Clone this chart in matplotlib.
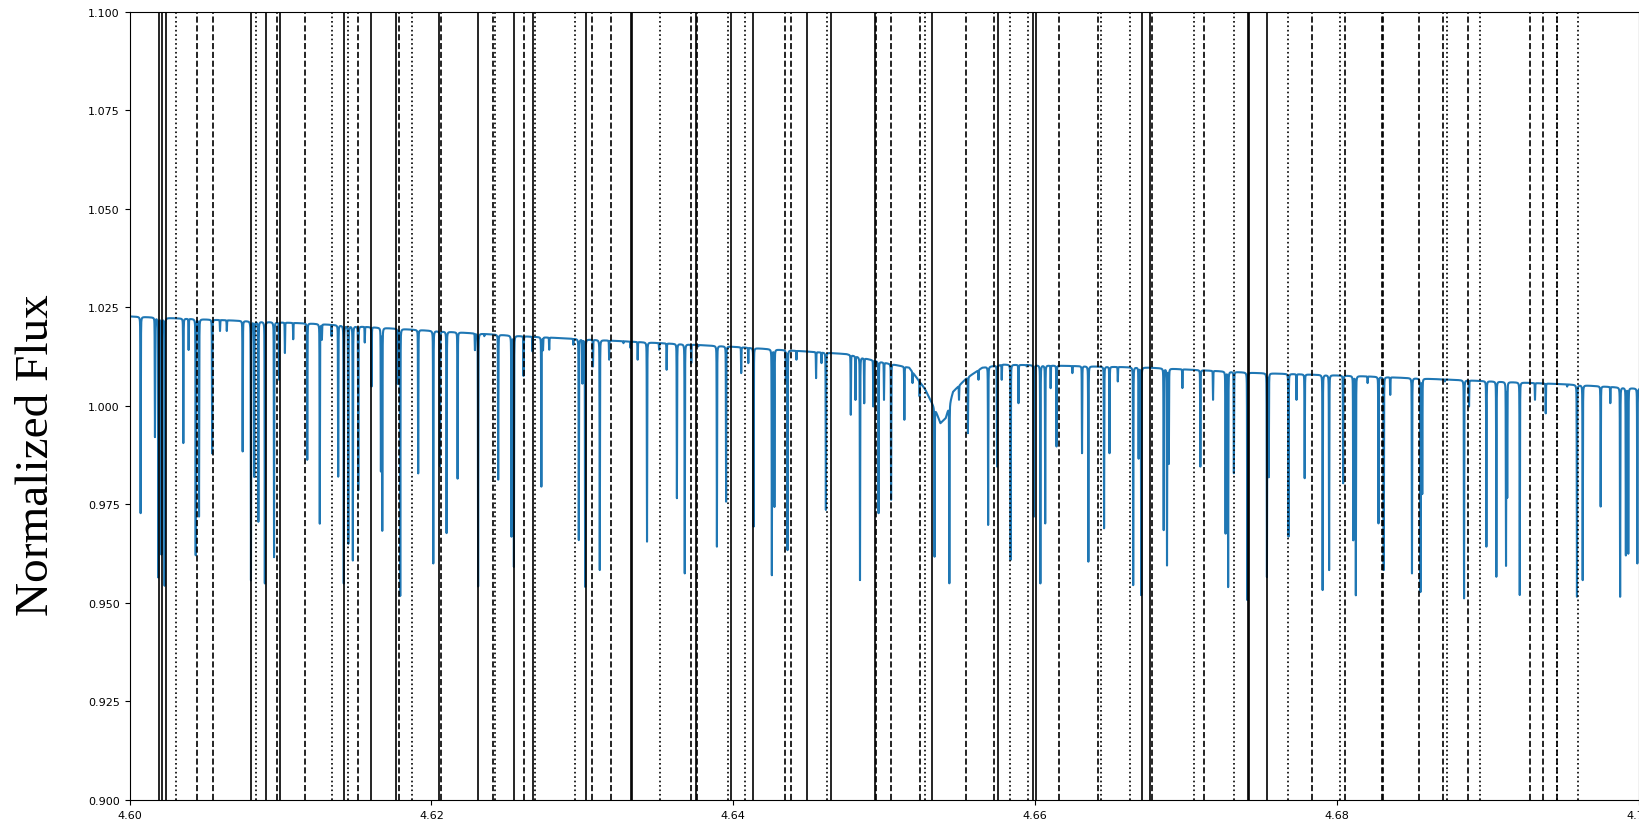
import numpy as np
import matplotlib
matplotlib.use("Agg")
import matplotlib.pyplot as plt

# ---------------- data ----------------
# continuum anchor points (wavelength, flux)
cont_wave = [4.6000, 4.61218, 4.62603, 4.63988, 4.64749, 4.64957, 4.65165, 4.65268,
             4.65338, 4.65372, 4.65407, 4.65455, 4.65545, 4.65649, 4.65788, 4.66757,
             4.67449, 4.68141, 4.68834, 4.69526, 4.70000]
cont_flux = [1.0227, 1.02085, 1.01767, 1.01502, 1.01315, 1.01129, 1.00970, 1.00438,
             0.99907, 0.99562, 0.99695, 1.00359, 1.00704, 1.00970, 1.01049, 1.00970,
             1.00837, 1.00757, 1.00651, 1.00545, 1.00438]

# absorption lines: centre wavelength and minimum flux
line_wave = [4.60073, 4.60168, 4.60190, 4.60211, 4.60232, 4.60356, 4.60391, 4.60438,
             4.60460, 4.60547, 4.60599, 4.60644, 4.60749, 4.60804, 4.60826, 4.60853,
             4.60896, 4.60957, 4.60990, 4.61029, 4.61084, 4.61177, 4.61260, 4.61274,
             4.61338, 4.61382, 4.61419, 4.61449, 4.61479, 4.61515, 4.61558, 4.61603,
             4.61665, 4.61674, 4.61776, 4.61793, 4.61912, 4.62012, 4.62056, 4.62100,
             4.62173, 4.62288, 4.62309, 4.62350, 4.62442, 4.62530, 4.62546, 4.62610,
             4.62669, 4.62728, 4.62739, 4.62780, 4.62940, 4.62976, 4.63000, 4.63018,
             4.63070, 4.63115, 4.63177, 4.63272, 4.63319, 4.63366, 4.63428, 4.63508,
             4.63558, 4.63626, 4.63678, 4.63721, 4.63768, 4.63891, 4.63952, 4.64052,
             4.64099, 4.64134, 4.64255, 4.64272, 4.64348, 4.64359, 4.64418, 4.64548,
             4.64584, 4.64613, 4.64655, 4.64778, 4.64809, 4.64839, 4.64867, 4.64927,
             4.64962, 4.64998, 4.65045, 4.65133, 4.65187, 4.65234, 4.65333, 4.65431,
             4.65495, 4.65554, 4.65624, 4.65688, 4.65747, 4.65778, 4.65837, 4.65889,
             4.65944, 4.65991, 4.66034, 4.66066, 4.66102, 4.66141, 4.66246, 4.66310,
             4.66352, 4.66456, 4.66492, 4.66547, 4.66649, 4.66685, 4.66702, 4.66851,
             4.66873, 4.66885, 4.66975, 4.67094, 4.67178, 4.67261, 4.67278, 4.67316,
             4.67405, 4.67535, 4.67547, 4.67678, 4.67731, 4.67785, 4.67904, 4.67947,
             4.68040, 4.68107, 4.68124, 4.68202, 4.68274, 4.68309, 4.68352, 4.68496,
             4.68552, 4.68564, 4.68714, 4.68841, 4.68874, 4.68989, 4.69055, 4.69119,
             4.69127, 4.69210, 4.69311, 4.69382, 4.69524, 4.69589, 4.69627, 4.69746,
             4.69810, 4.69875, 4.69913, 4.69929, 4.69989]
line_min = [0.97278, 0.99217, 0.95657, 0.96242, 0.95445, 0.99057, 1.01421, 0.96215,
            0.97198, 0.98792, 1.0190, 1.0190, 0.98845, 0.95578, 0.98207, 0.97065,
            0.95498, 0.96162, 1.00664, 1.01342, 1.0169, 0.98632, 0.97012, 1.0169,
            1.0177, 0.98207, 0.95498, 0.96507, 0.96082, 0.97862, 1.0161, 1.00492,
            0.98367, 0.96853, 1.0057, 0.95180, 0.98287, 0.96003, 0.98473, 0.96773,
            0.98154, 1.01421, 0.95418, 1.0177, 0.98128, 0.96693, 0.95923, 1.0076,
            1.01384, 0.97952, 1.01426, 1.01426, 1.01554, 0.96598, 1.00579, 0.95410,
            1.01002, 0.95835, 1.01172, 1.0159, 1.0147, 1.01172, 0.96555, 1.01426,
            1.00916, 0.97658, 0.95750, 1.01087, 1.0151, 0.96428, 0.97570, 1.00831,
            1.01087, 0.96935, 0.95710, 0.97445, 1.00664, 0.96343, 1.01172, 1.00704,
            1.01087, 0.97360, 1.01384, 0.99775, 1.00154, 0.95580, 1.00069, 0.99987,
            0.97278, 1.00154, 0.97615, 0.99647, 1.00579, 1.00239, 0.96173, 0.95498,
            1.00154, 0.99307, 1.00664, 0.96978, 0.98460, 1.00664, 0.96090, 1.00069,
            1.01002, 0.97190, 0.95498, 0.97020, 1.00452, 0.98970, 1.00831, 0.98800,
            0.96048, 0.96895, 0.98800, 1.0062, 0.95453, 0.98672, 0.95201, 0.96853,
            0.95963, 0.98545, 1.00452, 0.98460, 1.00154, 0.96768, 0.95410, 0.98293,
            0.95073, 0.95665, 0.98207, 0.96683, 1.00154, 0.98165, 0.95328, 0.95835,
            0.98037, 0.96598, 0.95201, 1.00579, 0.97020, 0.95835, 1.0028, 0.95750,
            0.95286, 0.97782, 1.0062, 0.95116, 0.99987, 0.96428, 0.95665, 0.95963,
            0.97703, 0.95201, 1.00154, 0.9981, 1.0049, 0.95158, 0.95580, 0.97445,
            1.00069, 0.95158, 0.96215, 0.96258, 0.96003]

# marker lines
solid_lines = [4.60197, 4.60213, 4.60241, 4.60804, 4.60904, 4.60996, 4.61420, 4.61599,
               4.61767, 4.62048, 4.62306, 4.62547, 4.62675, 4.63022, 4.63323, 4.63329,
               4.63750, 4.63982, 4.64128, 4.64486, 4.64649, 4.64936, 4.65318, 4.65755,
               4.65987, 4.66005, 4.66707, 4.66760, 4.67408, 4.67414, 4.67533]
dashed_lines = [4.60445, 4.60551, 4.60975, 4.61164, 4.61511, 4.61787, 4.62060, 4.62410,
                4.62615, 4.63065, 4.63187, 4.63719, 4.63759, 4.64344, 4.64380, 4.64942,
                4.65046, 4.65236, 4.65541, 4.65727, 4.66157, 4.66418, 4.66775, 4.67118,
                4.67831, 4.68052, 4.68299, 4.68305, 4.68544, 4.68701, 4.68869, 4.69278,
                4.69362, 4.69455]
dotted_lines = [4.60305, 4.60837, 4.61339, 4.61445, 4.61869, 4.62421, 4.62686, 4.62953,
                4.63512, 4.63966, 4.64077, 4.64618, 4.65270, 4.65835, 4.65954, 4.66436,
                4.66628, 4.67052, 4.67319, 4.67676, 4.68019, 4.68726, 4.68948, 4.69460,
                4.69598]

x_ticks = [4.60, 4.62, 4.64, 4.66, 4.68, 4.70]
x_ticklabels = ["4.60", "4.62", "4.64", "4.66", "4.68", "4.70"]
y_ticks = [0.900, 0.925, 0.950, 0.975, 1.000, 1.025, 1.050, 1.075, 1.100]
y_ticklabels = ["0.900", "0.925", "0.950", "0.975", "1.000", "1.025", "1.050", "1.075", "1.100"]

# ---------------- build spectrum from line list ----------------
wave = np.arange(4.6, 4.70001, 5e-6)
flux = np.interp(wave, cont_wave, cont_flux)
sigma = 1.2e-5
gamma = 1.5e-5
for w0, fmin in zip(line_wave, line_min):
    c0 = np.interp(w0, cont_wave, cont_flux)
    depth = max(0.0, 1.0 - fmin / c0)
    d = wave - w0
    prof = 0.75 * np.exp(-0.5 * (d / sigma) ** 2) + 0.25 / (1.0 + (d / gamma) ** 2)
    flux = flux * (1.0 - depth * prof)

# ---------------- figure ----------------
fig = plt.figure(figsize=(16.39, 8.2), dpi=100)
ax = fig.add_axes([129.6 / 1639, (820 - 801) / 820, (1639 - 129.6) / 1639, (801 - 12.7) / 820])

ax.plot(wave, flux, color="#1f77b4", lw=1.5)
for w in solid_lines:
    ax.axvline(w, color="black", ls="-", lw=1.2)
for w in dashed_lines:
    ax.axvline(w, color="black", ls="--", lw=1.2)
for w in dotted_lines:
    ax.axvline(w, color="black", ls=":", lw=1.2)

ax.set_xlim(4.60, 4.70)
ax.set_ylim(0.90, 1.10)
ax.set_xticks(x_ticks)
ax.set_xticklabels(x_ticklabels)
ax.set_yticks(y_ticks)
ax.set_yticklabels(y_ticklabels)
ax.tick_params(labelsize=8)

fig.text(37 / 1639, 1 - 455 / 820, "Normalized Flux", family="Liberation Serif",
         fontsize=34, rotation=90, ha="center", va="center")

fig.savefig("out.png", dpi=100)
